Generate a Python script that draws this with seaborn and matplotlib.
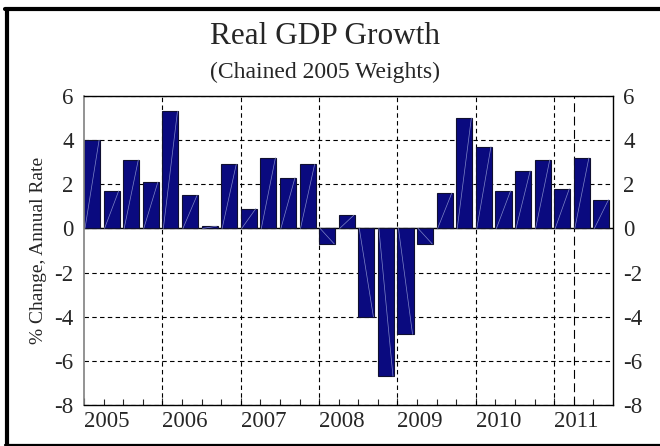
import numpy as np
import pandas as pd
import seaborn as sns
import matplotlib.pyplot as plt
from matplotlib.lines import Line2D
from matplotlib import ticker

# Quarterly real GDP growth, % change at annual rate (2005Q1 - 2011Q3)
YEARS = [2005, 2006, 2007, 2008, 2009, 2010, 2011]
QUARTERS = [f"{y}Q{q}" for y in YEARS for q in range(1, 5)][:27]
GROWTH = [
    4.0, 1.7, 3.1, 2.1,
    5.3, 1.5, 0.1, 2.9,
    0.9, 3.2, 2.3, 2.9,
    -0.7, 0.6, -4.0, -6.7,
    -4.8, -0.7, 1.6, 5.0,
    3.7, 1.7, 2.6, 3.1,
    1.8, 3.2, 1.3,
]
Y_TICKS = [-8, -6, -4, -2, 0, 2, 4, 6]
MARKER_QUARTER = "2011Q2"

BAR_COLOR = "#0a0a7f"
BAR_W = 0.82
SERIF = ["Liberation Serif", "DejaVu Serif"]

df = pd.DataFrame({"quarter": QUARTERS, "growth": GROWTH})

sns.set_style("white")
plt.rcParams["font.family"] = SERIF

fig = plt.figure(figsize=(6.6, 4.46), dpi=100)
ax = fig.add_axes([84 / 660, 1 - 405 / 446, 529 / 660, 309 / 446])

sns.barplot(
    data=df, x="quarter", y="growth", color=BAR_COLOR, saturation=1,
    width=BAR_W, edgecolor="#101030", linewidth=0.8, ax=ax, zorder=3,
)

# faint diagonal stroke inside each bar, as in the original
for p in ax.patches:
    x0 = p.get_x()
    ax.plot([x0 + 0.05, x0 + p.get_width() - 0.05], [0, p.get_height()],
            color="#7f86c8", lw=0.5, zorder=4)

half = BAR_W / 2
ax.set_xlim(-half, len(QUARTERS) - half)
ax.set_ylim(-8, 6)

# year boundaries are major ticks (labels left aligned), quarters are minor ticks
year_pos = [i - half for i, q in enumerate(QUARTERS) if q.endswith("Q1")]
ax.xaxis.set_major_locator(ticker.FixedLocator(year_pos))
ax.xaxis.set_major_formatter(ticker.FixedFormatter([str(y) for y in YEARS]))
ax.xaxis.set_minor_locator(ticker.FixedLocator(np.arange(len(QUARTERS)) - half))
for lab in ax.get_xticklabels():
    lab.set_horizontalalignment("left")
ax.tick_params(axis="x", which="both", direction="in", bottom=True, top=False,
               labelsize=16.5, pad=4)
ax.tick_params(axis="x", which="major", length=5, width=0.8)
ax.tick_params(axis="x", which="minor", length=4, width=0.8)

ax.set_yticks(Y_TICKS)
ax.yaxis.set_major_formatter(ticker.FuncFormatter(lambda v, _: f"{v:.0f}"))
ax.tick_params(axis="y", left=False, right=False, labelleft=True, labelright=True,
               labelsize=16.5, pad=4)

# vertical dashed lines at the year boundaries (skip the one on the left spine)
for xv in year_pos[1:]:
    ax.axvline(xv, color="black", linestyle=(0, (4, 3)), lw=0.8, zorder=1)
ax.grid(axis="y", color="black", linestyle=(0, (4, 3)), lw=0.8, zorder=1)
ax.axhline(0, color="black", lw=1.0, zorder=2)
ax.axvline(QUARTERS.index(MARKER_QUARTER) - half, color="black",
           linestyle=(0, (8, 4)), lw=0.8, zorder=1)

for side in ["top", "right", "bottom"]:
    ax.spines[side].set_color("black")
    ax.spines[side].set_linewidth(1.0)
ax.spines["left"].set_color("#808080")
ax.spines["left"].set_linewidth(1.2)
for sp in ax.spines.values():
    sp.set_zorder(5)

ax.set_xlabel("")
ax.set_ylabel("% Change, Annual Rate", fontsize=14, labelpad=5)

fig.text(0.492, 1 - 37 / 446, "Real GDP Growth", ha="center", va="center", fontsize=22.5)
fig.text(0.492, 1 - 72 / 446, "(Chained 2005 Weights)", ha="center", va="center",
         fontsize=17)

# frame around the picture (left, top and bottom edges)
fig.add_artist(Line2D([7 / 660, 7 / 660], [0.005, 1 - 9 / 446], color="black",
                      lw=3, transform=fig.transFigure))
fig.add_artist(Line2D([5 / 660, 1.0], [1 - 9 / 446, 1 - 9 / 446], color="black",
                      lw=3, transform=fig.transFigure))
fig.add_artist(Line2D([5 / 660, 1.0], [1.5 / 446, 1.5 / 446], color="black",
                      lw=1.6, transform=fig.transFigure))

fig.savefig("out.png", dpi=100)
